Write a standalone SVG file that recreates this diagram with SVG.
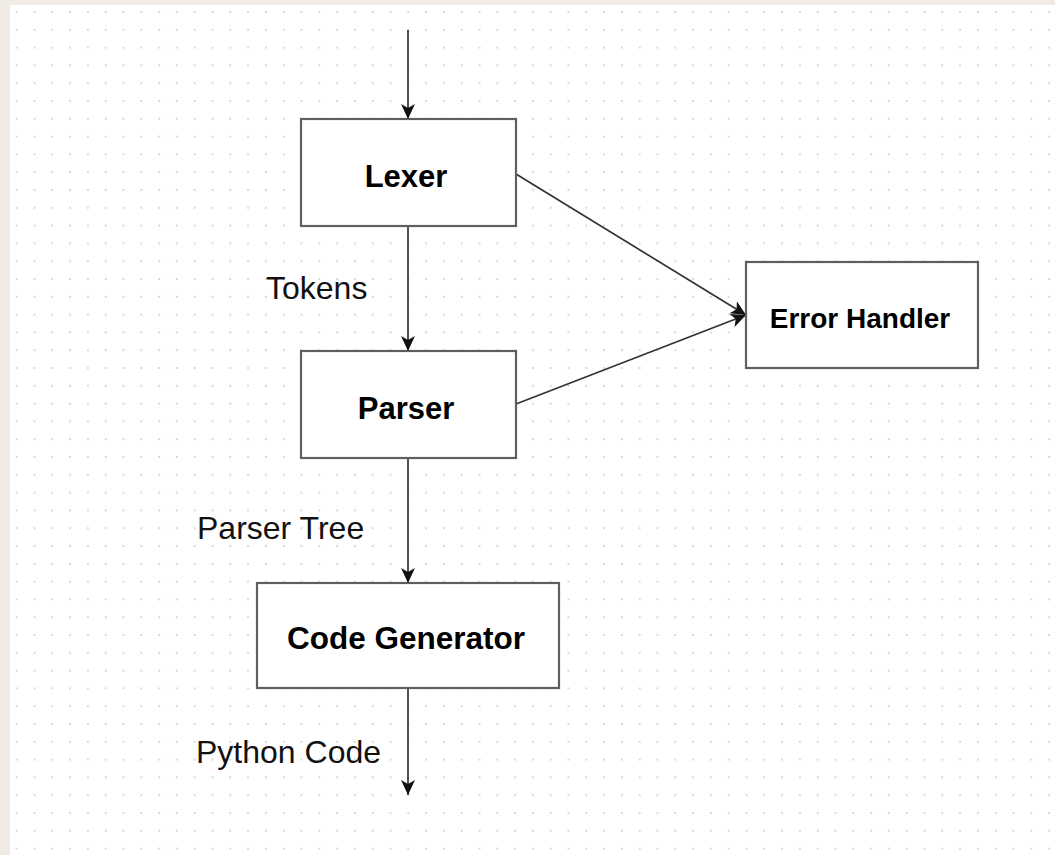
<svg xmlns="http://www.w3.org/2000/svg" width="1055" height="855" viewBox="0 0 1055 855">
<defs>
<pattern id="grid" patternUnits="userSpaceOnUse" x="7.8" y="3.1" width="17.8" height="17.8">
<circle cx="8.9" cy="8.9" r="1" fill="#cdcdcd"/>
</pattern>
<marker id="arr" markerUnits="userSpaceOnUse" viewBox="0 0 15 15" refX="15" refY="7.5" markerWidth="15" markerHeight="15" orient="auto">
<path d="M0,0.5 L15,7.5 L0,14.5 L4,7.5 z" fill="#111"/>
</marker>
<style>
.box{fill:#fff;stroke:#5f5f5f;stroke-width:2.2}
.title{font-family:"Liberation Sans",Arial,sans-serif;font-weight:bold;fill:#000;text-anchor:middle}
.lbl{font-family:"Liberation Sans",Arial,sans-serif;font-size:32px;fill:#111}
.edge{stroke:#333;stroke-width:1.7;fill:none;marker-end:url(#arr)}
</style>
</defs>
<rect x="0" y="0" width="1055" height="855" fill="#f0ece3"/>
<rect x="10" y="5" width="1045" height="850" fill="#fff"/>
<rect x="10" y="5" width="1045" height="850" fill="url(#grid)"/>
<g id="connectors">
<line class="edge" x1="408" y1="30" x2="408" y2="119"/>
<line class="edge" x1="408" y1="226" x2="408" y2="351"/>
<line class="edge" x1="408" y1="458" x2="408" y2="583"/>
<line class="edge" x1="408" y1="688" x2="408" y2="795"/>
<line class="edge" x1="516" y1="174" x2="746" y2="315"/>
<line class="edge" x1="516" y1="404" x2="746" y2="315"/>
</g>
<g id="lexer">
<rect class="box" x="301" y="119" width="215" height="107"/>
<text class="title" x="406" y="186.5" font-size="31">Lexer</text>
</g>
<g id="parser">
<rect class="box" x="301" y="351" width="215" height="107"/>
<text class="title" x="406" y="418.5" font-size="31">Parser</text>
</g>
<g id="error-handler">
<rect class="box" x="746" y="262" width="232" height="106"/>
<text class="title" x="860" y="327.5" font-size="28">Error Handler</text>
</g>
<g id="code-generator">
<rect class="box" x="257" y="583" width="302" height="105"/>
<text class="title" x="406" y="649" font-size="31.5">Code Generator</text>
</g>
<g id="labels">
<text class="lbl" x="266" y="298.5">Tokens</text>
<text class="lbl" x="197" y="538.5">Parser Tree</text>
<text class="lbl" x="196" y="762.5">Python Code</text>
</g>
</svg>
